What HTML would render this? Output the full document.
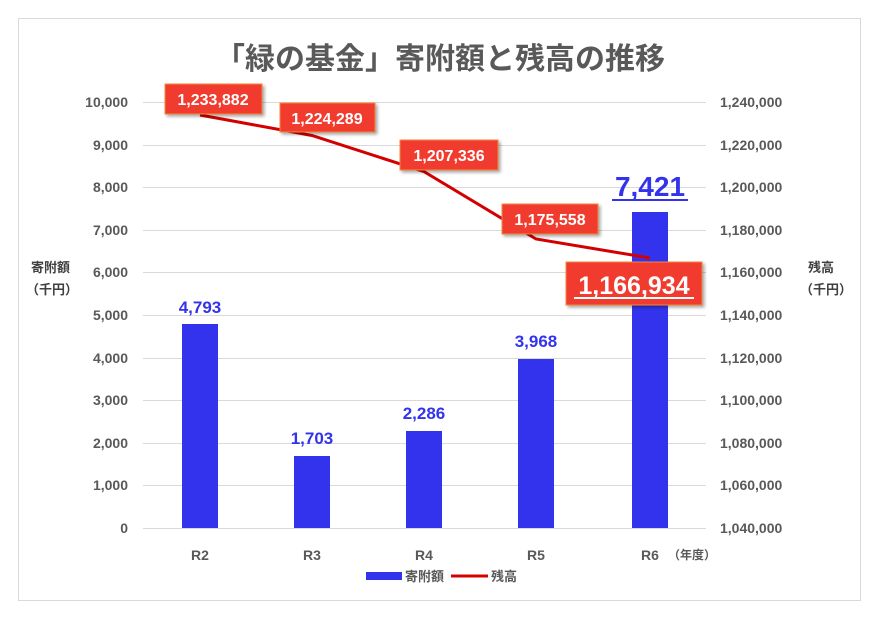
<!DOCTYPE html>
<html><head><meta charset="utf-8"><style>
body{margin:0;background:#fff;}
svg text{font-family:"Liberation Sans","Noto Sans CJK JP",sans-serif;}
</style></head><body>
<svg width="880" height="623" viewBox="0 0 880 623" xmlns="http://www.w3.org/2000/svg">
<defs><filter id="sh" x="-10%" y="-10%" width="130%" height="140%"><feDropShadow dx="2" dy="2" stdDeviation="1.5" flood-color="#000" flood-opacity="0.35"/></filter></defs>
<rect x="18.5" y="18.5" width="842" height="582" fill="#fff" stroke="#d9d9d9"/>
<text x="440" y="69" text-anchor="middle" font-size="30" font-weight="bold" fill="#595959">「緑の基金」寄附額と残高の推移</text>
<g stroke="#d9d9d9" stroke-width="1">
<line x1="143" x2="706" y1="102.5" y2="102.5"/><line x1="143" x2="706" y1="145.5" y2="145.5"/>
<line x1="143" x2="706" y1="187.5" y2="187.5"/><line x1="143" x2="706" y1="230.5" y2="230.5"/>
<line x1="143" x2="706" y1="272.5" y2="272.5"/><line x1="143" x2="706" y1="315.5" y2="315.5"/>
<line x1="143" x2="706" y1="358.5" y2="358.5"/><line x1="143" x2="706" y1="400.5" y2="400.5"/>
<line x1="143" x2="706" y1="443.5" y2="443.5"/><line x1="143" x2="706" y1="485.5" y2="485.5"/>
<line x1="143" x2="706" y1="528.5" y2="528.5"/>
</g>
<g font-size="14" font-weight="bold" fill="#595959" text-anchor="end">
<text x="128" y="107">10,000</text><text x="128" y="150">9,000</text><text x="128" y="192">8,000</text>
<text x="128" y="235">7,000</text><text x="128" y="277">6,000</text><text x="128" y="320">5,000</text>
<text x="128" y="363">4,000</text><text x="128" y="405">3,000</text><text x="128" y="448">2,000</text>
<text x="128" y="490">1,000</text><text x="128" y="533">0</text>
</g>
<g font-size="14" font-weight="bold" fill="#595959">
<text x="720" y="107">1,240,000</text><text x="720" y="150">1,220,000</text><text x="720" y="192">1,200,000</text>
<text x="720" y="235">1,180,000</text><text x="720" y="277">1,160,000</text><text x="720" y="320">1,140,000</text>
<text x="720" y="363">1,120,000</text><text x="720" y="405">1,100,000</text><text x="720" y="448">1,080,000</text>
<text x="720" y="490">1,060,000</text><text x="720" y="533">1,040,000</text>
</g>
<g font-size="13" font-weight="bold" fill="#404040">
<text x="31" y="272">寄附額</text><text x="26" y="294">（千円）</text>
<text x="808" y="272">残高</text><text x="800" y="294">（千円）</text>
</g>
<g fill="#3333ee">
<rect x="182" y="324" width="36" height="204"/>
<rect x="294" y="456" width="36" height="72"/>
<rect x="406" y="431" width="36" height="97"/>
<rect x="518" y="359" width="36" height="169"/>
<rect x="632" y="212" width="36" height="316"/>
</g>
<g font-size="17" font-weight="bold" fill="#3333ee" text-anchor="middle">
<text x="200" y="313">4,793</text><text x="312" y="444">1,703</text><text x="424" y="419">2,286</text><text x="536" y="347">3,968</text>
</g>
<text x="650" y="196" font-size="28" font-weight="bold" fill="#3333ee" text-anchor="middle">7,421</text>
<line x1="612" x2="688" y1="200" y2="200" stroke="#3333ee" stroke-width="2"/>
<polyline points="200,115 312,135.5 424,171.6 536,239 650,258" fill="none" stroke="#d40000" stroke-width="3"/>
<g filter="url(#sh)" fill="#f03a2e" stroke="#f28a3a" stroke-width="1">
<rect x="165" y="84" width="97" height="30"/>
<rect x="280" y="103" width="95" height="29"/>
<rect x="400" y="140" width="98" height="30"/>
<rect x="502" y="204" width="96" height="30"/>
<rect x="566" y="262" width="136" height="43"/>
</g>
<g font-size="16" font-weight="bold" fill="#fff" text-anchor="middle">
<text x="213" y="105">1,233,882</text><text x="327" y="124">1,224,289</text>
<text x="449" y="161">1,207,336</text><text x="550" y="225">1,175,558</text>
</g>
<text x="634" y="294" font-size="25" font-weight="bold" fill="#fff" text-anchor="middle">1,166,934</text>
<line x1="574" x2="694" y1="298" y2="298" stroke="#fff" stroke-width="2"/>
<g font-size="14" font-weight="bold" fill="#595959" text-anchor="middle">
<text x="200" y="560">R2</text><text x="312" y="560">R3</text><text x="424" y="560">R4</text><text x="536" y="560">R5</text><text x="650" y="560">R6</text>
</g>
<text x="668" y="559" font-size="12" font-weight="bold" fill="#595959">（年度）</text>
<rect x="366" y="572" width="36" height="8" fill="#3333ee"/>
<text x="405" y="581" font-size="13" font-weight="bold" fill="#595959">寄附額</text>
<line x1="451" x2="488" y1="576" y2="576" stroke="#d40000" stroke-width="3"/>
<text x="491" y="581" font-size="13" font-weight="bold" fill="#595959">残高</text>
</svg>
</body></html>
